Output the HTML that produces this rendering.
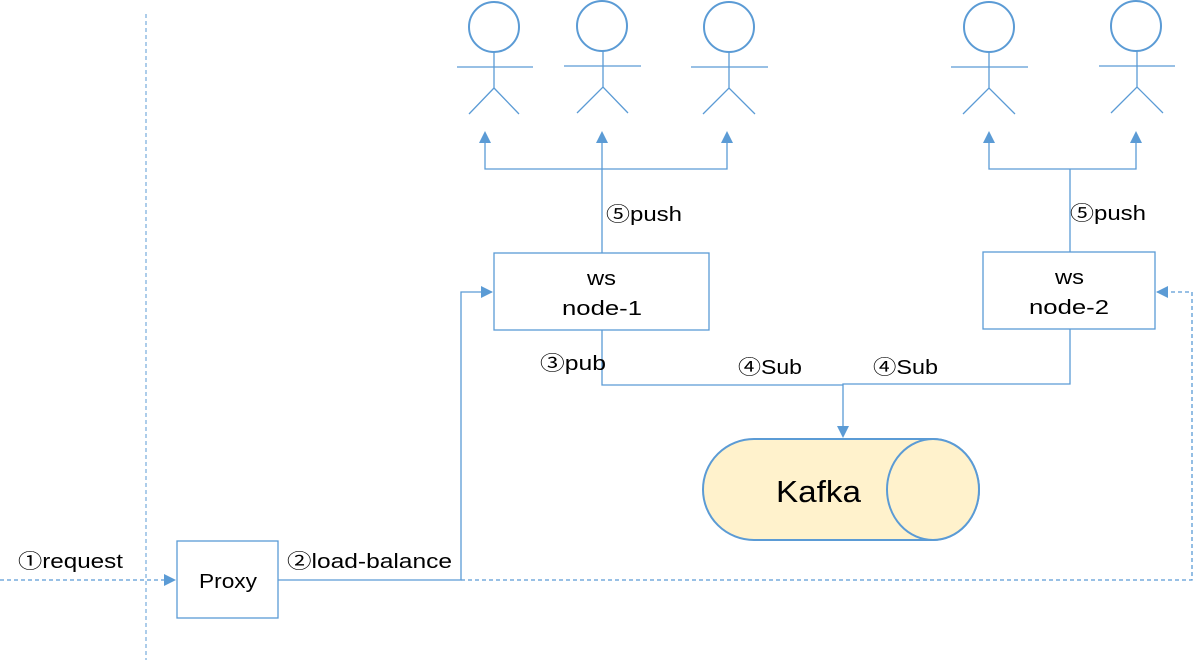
<!DOCTYPE html>
<html><head><meta charset="utf-8"><style>
html,body{margin:0;padding:0;background:#fff;}
svg{display:block}
text{font-family:"Liberation Sans","Noto Sans CJK SC",sans-serif;font-size:20px;fill:#000}
</style></head><body>
<svg width="1194" height="660" viewBox="0 0 1194 660" xmlns="http://www.w3.org/2000/svg">
<defs>
<marker id="a" markerWidth="12" markerHeight="12" refX="11" refY="6" orient="auto" markerUnits="userSpaceOnUse">
<path d="M0,0 L12,6 L0,12 z" fill="#5b9bd5"/></marker>
</defs>
<g stroke="#5b9bd5" fill="none" stroke-width="1.3">
<circle cx="494" cy="27" r="25" stroke-width="2"/>
<line x1="457" y1="67" x2="533" y2="67"/><line x1="494" y1="52" x2="494" y2="88"/>
<polyline points="469,114 494,88 519,114"/>
<circle cx="602" cy="26" r="25" stroke-width="2"/>
<line x1="564" y1="66" x2="641" y2="66"/><line x1="603" y1="51" x2="603" y2="87"/>
<polyline points="577,113 603,87 628,113"/>
<circle cx="729" cy="27" r="25" stroke-width="2"/>
<line x1="691" y1="67" x2="768" y2="67"/><line x1="729" y1="52" x2="729" y2="88"/>
<polyline points="703,114 729,88 755,114"/>
<circle cx="989" cy="27" r="25" stroke-width="2"/>
<line x1="951" y1="67" x2="1028" y2="67"/><line x1="989" y1="52" x2="989" y2="88"/>
<polyline points="963,114 989,88 1015,114"/>
<circle cx="1136" cy="26" r="25" stroke-width="2"/>
<line x1="1099" y1="66" x2="1175" y2="66"/><line x1="1137" y1="51" x2="1137" y2="87"/>
<polyline points="1111,113 1137,87 1163,113"/>
<polyline points="485,143 485,169 727,169 727,143"/>
<line x1="602" y1="253" x2="602" y2="143"/>
<polyline points="989,143 989,169 1136,169 1136,143"/>
<line x1="1070" y1="252" x2="1070" y2="169"/>
</g>
<g fill="#5b9bd5">
<path d="M479,143 L485,131 L491,143z"/><path d="M596,143 L602,131 L608,143z"/>
<path d="M721,143 L727,131 L733,143z"/><path d="M983,143 L989,131 L995,143z"/>
<path d="M1130,143 L1136,131 L1142,143z"/>
<path d="M837,426 L843,438 L849,426z"/>
</g>
<g stroke="#5b9bd5" fill="none" stroke-width="1.3">
<rect x="494" y="253" width="215" height="77" fill="#fff"/>
<rect x="983" y="252" width="172" height="77" fill="#fff"/>
<rect x="177" y="541" width="101" height="77" fill="#fff"/>
<polyline points="602,330 602,385 843,385"/>
<polyline points="1070,329 1070,384 843,384 843,427"/>
<path d="M754,439 L933,439 A46,50.5 0 0 1 933,540 L754,540 A51,50.5 0 0 1 754,439 z" fill="#fff2cc" stroke-width="2"/>
<ellipse cx="933" cy="489.5" rx="46" ry="50.5" fill="#fff2cc" stroke-width="2"/>
<polyline points="278,580 461,580 461,292 492,292" marker-end="url(#a)"/>
<line x1="0" y1="580" x2="175" y2="580" stroke-dasharray="4,3" marker-end="url(#a)"/>
<polyline points="461,580 1192,580 1192,292 1157,292" stroke-dasharray="4,3" marker-end="url(#a)"/>
<line x1="146" y1="14" x2="146" y2="660" stroke-dasharray="4,3" stroke-width="1"/>
</g>
<g lengthAdjust="spacingAndGlyphs">
<text x="587" y="285" textLength="29" lengthAdjust="spacingAndGlyphs">ws</text>
<text x="562" y="315" textLength="80" lengthAdjust="spacingAndGlyphs">node-1</text>
<text x="1055" y="284" textLength="29" lengthAdjust="spacingAndGlyphs">ws</text>
<text x="1029" y="314" textLength="80" lengthAdjust="spacingAndGlyphs">node-2</text>
<text x="199" y="588" textLength="58" lengthAdjust="spacingAndGlyphs">Proxy</text>
<text x="776" y="502" style="font-size:31px" textLength="85" lengthAdjust="spacingAndGlyphs">Kafka</text>
<text x="18" y="568" textLength="105" lengthAdjust="spacingAndGlyphs">①request</text>
<text x="287" y="568" textLength="165" lengthAdjust="spacingAndGlyphs">②load-balance</text>
<text x="540" y="370" textLength="66" lengthAdjust="spacingAndGlyphs">③pub</text>
<text x="738" y="374" textLength="64" lengthAdjust="spacingAndGlyphs">④Sub</text>
<text x="873" y="374" textLength="65" lengthAdjust="spacingAndGlyphs">④Sub</text>
<text x="606" y="221" textLength="76" lengthAdjust="spacingAndGlyphs">⑤push</text>
<text x="1070" y="220" textLength="76" lengthAdjust="spacingAndGlyphs">⑤push</text>
</g>
</svg>
</body></html>
